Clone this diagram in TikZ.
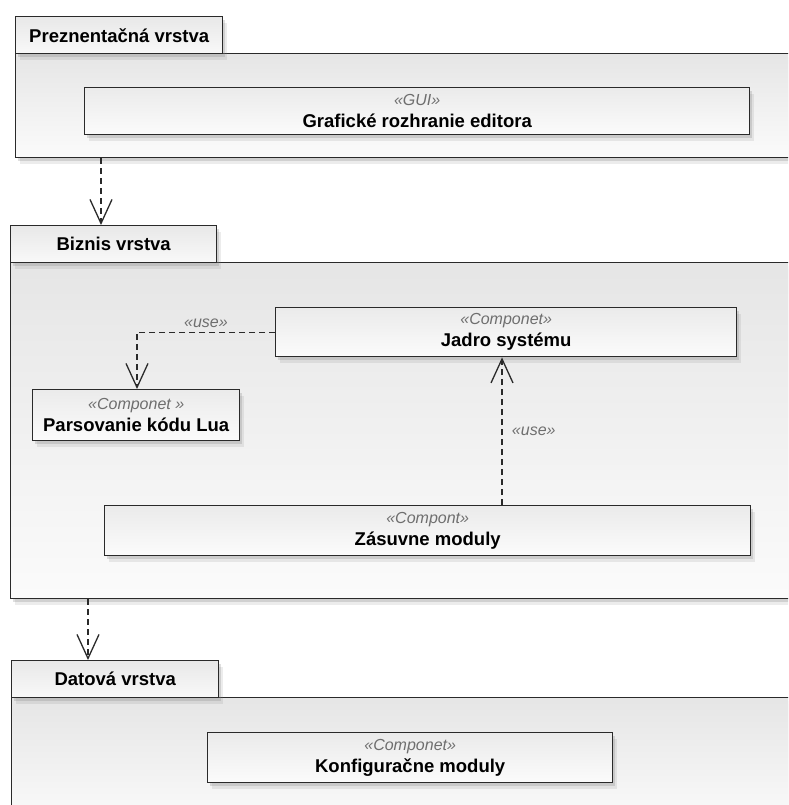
\documentclass[tikz,border=0pt]{standalone}
\usepackage{fontspec}
\setmainfont{Liberation Sans}
\usetikzlibrary{arrows.meta,calc,shadows}

\definecolor{edge}{HTML}{2A2A2A}
\definecolor{stereo}{HTML}{6E6E6E}

\begin{document}
\begin{tikzpicture}[x=1pt, y=-1pt,
    >={Straight Barb[length=24pt,width=22pt]},
    softshadow/.style={drop shadow={opacity=0.15, shadow xshift=4pt, shadow yshift=-6pt},
        drop shadow={opacity=0.25, shadow xshift=2pt, shadow yshift=-3pt}},
    pkgtab/.style={draw=edge, line width=1.4pt, top color=gray!18, bottom color=gray!5,
        anchor=north west, inner sep=0pt, minimum height=37pt,
        font=\fontsize{18.5}{20}\selectfont\bfseries, softshadow},
    pkgbody/.style={draw=edge, line width=1.4pt, top color=gray!20, bottom color=gray!3,
        anchor=north west, inner sep=0pt, softshadow},
    comp/.style={draw=edge, line width=1.4pt, top color=gray!16, bottom color=gray!3,
        anchor=north west, inner sep=0pt, align=center,
        font=\fontsize{18.5}{22}\selectfont\bfseries, softshadow},
    dep/.style={->, dash pattern=on 6pt off 4pt, line width=1.3pt, draw=edge},
    uselabel/.style={font=\fontsize{16}{18}\selectfont\itshape, text=stereo}]

    \clip (0,0) rectangle (788,805);
    \fill[white] (0,0) rectangle (788,805);

    % prezentacna vrstva
    \node[pkgbody, minimum width=790pt, minimum height=104pt] (prezBody) at (15,53) {};
    \node[pkgtab, minimum width=207pt] (prezTab) at (15,16) {Preznentačná vrstva};
    \node[comp, minimum width=665pt, minimum height=47pt] (gui) at (84,87)
        {\textmd{\textit{\color{stereo}\fontsize{16}{18}\selectfont «GUI»}}\\Grafické rozhranie editora};

    % biznis vrstva
    \node[pkgbody, minimum width=795pt, minimum height=336pt] (biznisBody) at (10,262) {};
    \node[pkgtab, minimum width=206pt] (biznisTab) at (10,225) {Biznis vrstva};
    \node[comp, minimum width=461pt, minimum height=49pt] (jadro) at (275,307)
        {\textmd{\textit{\color{stereo}\fontsize{16}{18}\selectfont «Componet»}}\\Jadro systému};
    \node[comp, minimum width=207pt, minimum height=51pt] (parsovanie) at (32,389)
        {\textmd{\textit{\color{stereo}\fontsize{16}{18}\selectfont «Componet »}}\\Parsovanie kódu Lua};
    \node[comp, minimum width=646pt, minimum height=50pt] (zasuvne) at (104,505)
        {\textmd{\textit{\color{stereo}\fontsize{16}{18}\selectfont «Compont»}}\\Zásuvne moduly};

    % datova vrstva
    \node[pkgbody, minimum width=795pt, minimum height=130pt] (datovaBody) at (11,697) {};
    \node[pkgtab, minimum width=207pt] (datovaTab) at (11,660) {Datová vrstva};
    \node[comp, minimum width=405pt, minimum height=50pt] (konfig) at (207,732)
        {\textmd{\textit{\color{stereo}\fontsize{16}{18}\selectfont «Componet»}}\\Konfiguračne moduly};

    \draw[dep] ([xshift=86pt]prezBody.south west) -- ([xshift=91pt]biznisTab.north west);
    \draw[dep] ([xshift=78pt]biznisBody.south west) -- ([xshift=77pt]datovaTab.north west);

    \draw[dep] (jadro.west) -| ([xshift=105pt]parsovanie.north west)
        node[uselabel, pos=0.25, above=1pt] {«use»};
    \draw[dep] ([xshift=398pt]zasuvne.north west) -- ([xshift=227pt]jadro.south west)
        node[uselabel, midway, right=6pt] {«use»};
\end{tikzpicture}
\end{document}
